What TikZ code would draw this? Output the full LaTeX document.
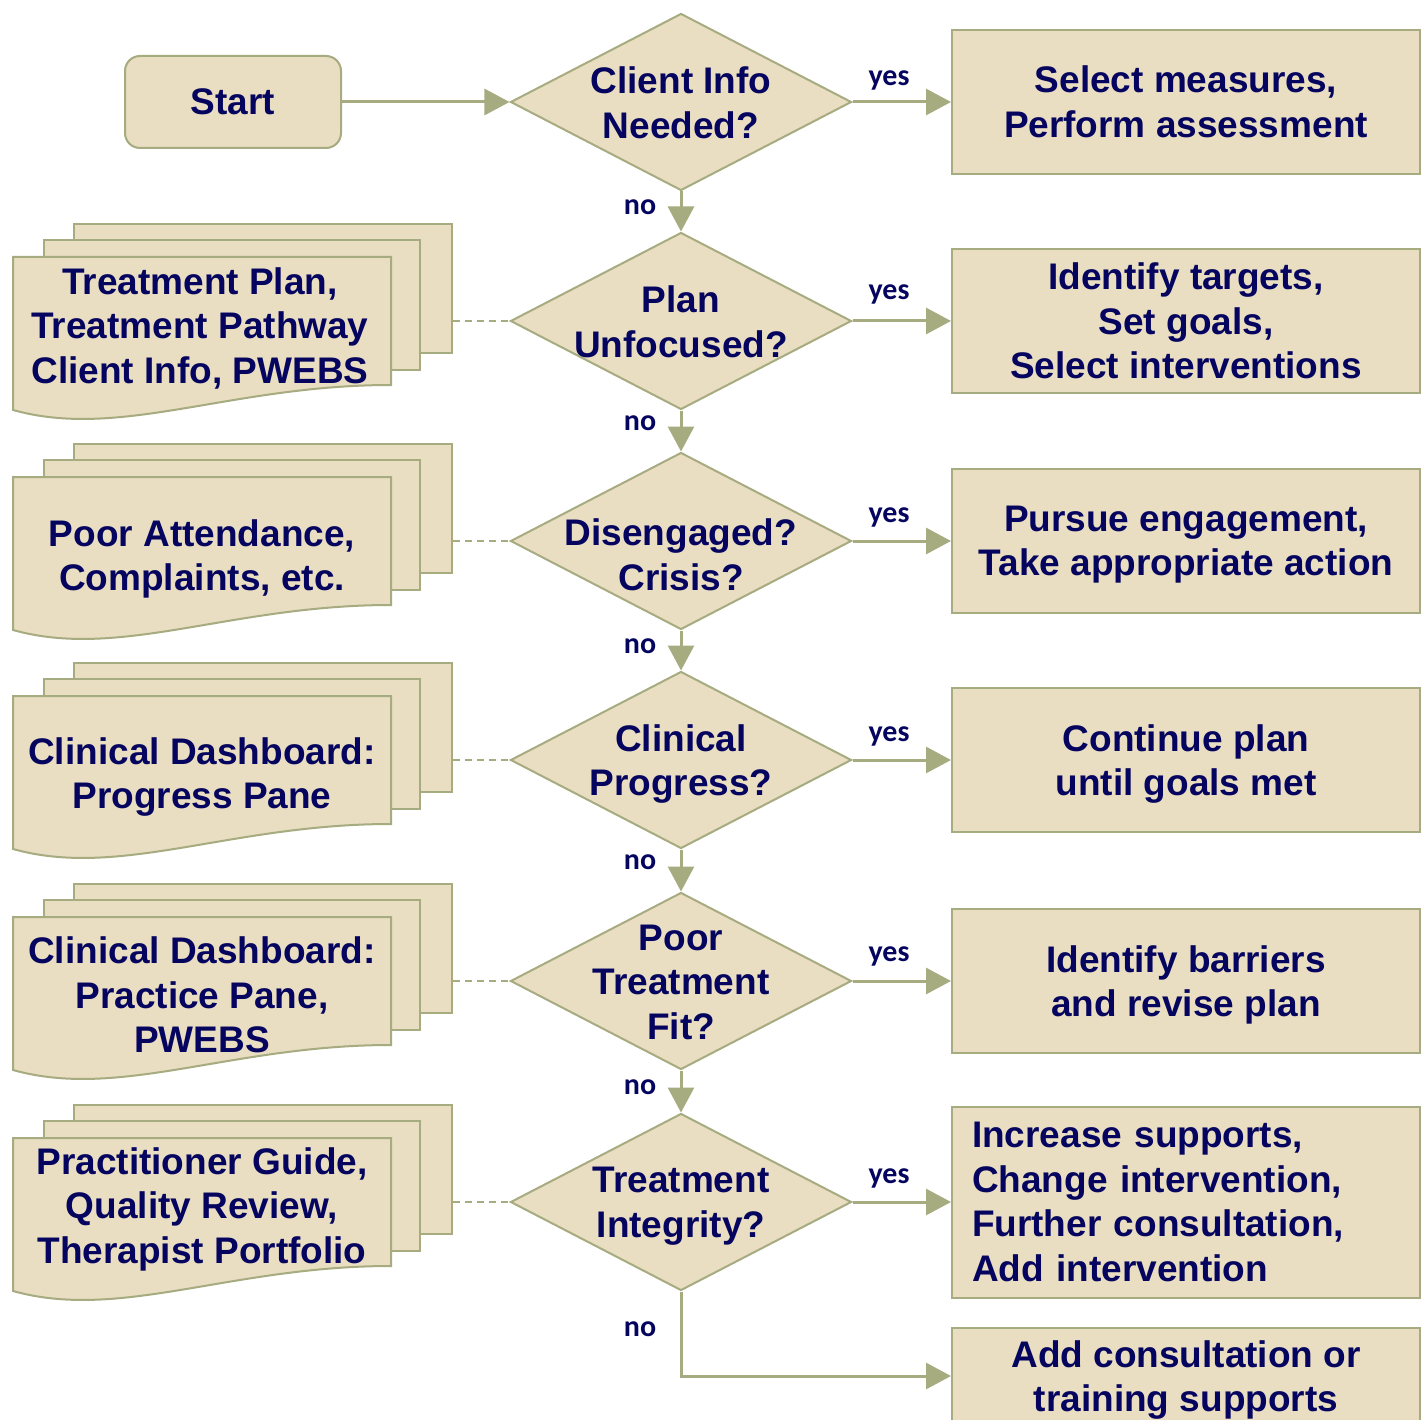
\documentclass[tikz,border=0pt]{standalone}
\usepackage{fontspec}
\setmainfont{Liberation Sans}
\newfontfamily\lblfont{Carlito}
\usetikzlibrary{arrows.meta,positioning,shapes.geometric}
\definecolor{sand}{HTML}{E9DDC2}
\definecolor{olive}{HTML}{A6AB80}
\definecolor{ink}{HTML}{05055F}
\newcommand\boxfont{\fontsize{37}{44.5}\selectfont\bfseries}

\begin{document}
\begin{tikzpicture}[
  x=1pt,y=-1pt,
  startbox/.style={rectangle,rounded corners=15pt,draw=olive,fill=sand,line width=2pt,minimum width=216pt,minimum height=92pt,font=\boxfont,text=ink},
  decbox/.style={diamond,draw=olive,fill=sand,line width=2pt,minimum width=341pt,minimum height=177pt,inner sep=0pt},
  dectext/.style={align=center,font=\boxfont,text=ink},
  actbox/.style={rectangle,draw=olive,fill=sand,line width=2pt,minimum width=468pt,minimum height=144pt,align=center,font=\boxfont,text=ink},
  sheet/.style={rectangle,draw=olive,fill=sand,line width=2pt,inner sep=0pt},
  doctext/.style={align=center,font=\boxfont,text=ink},
  yn/.style={font=\lblfont\fontsize{30}{36}\selectfont\bfseries,text=ink},
  arr/.style={-{Triangle[length=25pt,width=26pt]},line width=3pt,olive},
  lnk/.style={dash pattern=on 7pt off 5pt,line width=1.5pt,olive}]
\useasboundingbox (0,0) rectangle (1421,1420);
\node[startbox] (start) at (233,102) {Start};
% decisions
\node[decbox,label={[dectext,yshift=-1pt]center:{Client Info\\Needed?}}] (d1) at (681,102) {};
\node[decbox,label={[dectext,yshift=-1pt]center:{Plan\\Unfocused?}}] (d2) at (681,321) {};
\node[decbox,label={[dectext,yshift=-14pt]center:{Disengaged?\\Crisis?}}] (d3) at (681,541) {};
\node[decbox,label={[dectext,yshift=-4pt]center:{Clinical\\Progress?}}] (d4) at (681,760) {};
\node[decbox,label={[dectext,yshift=-1pt]center:{Poor\\Treatment\\Fit?}}] (d5) at (681,981) {};
\node[decbox,label={[dectext,yshift=-4pt]center:{Treatment\\Integrity?}}] (d6) at (681,1202) {};
% actions
\node[actbox] (a1) at (1186,102) {Select measures,\\Perform assessment};
\node[actbox] (a2) at (1186,321) {Identify targets,\\Set goals,\\Select interventions};
\node[actbox,text depth=-10pt] (a3) at (1186,541) {Pursue engagement,\\Take appropriate action};
\node[actbox,text depth=-4pt] (a4) at (1186,760) {Continue plan\\until goals met};
\node[actbox,text depth=-4pt] (a5) at (1186,981) {Identify barriers\\and revise plan};
\node[actbox,minimum height=191pt,align=left,text width=428pt,inner xsep=20pt] (a6) at (1186,1202) {Increase supports,\\Change intervention,\\Further consultation,\\Add intervention};
\node[actbox,minimum height=97pt,text depth=-8pt] (a7) at (1186,1376) {Add consultation or\\training supports};
% document stacks
\foreach \k/\c in {2/321,3/541,4/760,5/981,6/1202} {
  \node[sheet,minimum width=378pt,minimum height=129pt] (b\k) at (263,\c-32.5) {};
  \node[sheet,minimum width=376pt,minimum height=130pt] (m\k) at (232,\c-16) {};
  \draw[sheet] (13,\c-64) -- (391,\c-64) -- (391,\c+64) .. controls (230,\c+64) and (120,\c+119) .. (13,\c+89) -- cycle;
}
\node[doctext] (t2) at (200,328) {Treatment Plan,\\Treatment Pathway\\Client Info, PWEBS};
\node[doctext] (t3) at (202,559) {Poor Attendance,\\Complaints, etc.};
\node[doctext] (t4) at (202,777) {Clinical Dashboard:\\Progress Pane};
\node[doctext] (t5) at (202,995) {Clinical Dashboard:\\Practice Pane,\\PWEBS};
\node[doctext] (t6) at (202,1209) {Practitioner Guide,\\Quality Review,\\Therapist Portfolio};
% connectors
\draw[arr] (start) -- (d1);
\foreach \k in {1,...,6} \draw[arr] (d\k.east) -- (a\k.west);
\foreach \x/\y in {d1/d2,d2/d3,d3/d4,d4/d5,d5/d6} \draw[arr] (\x.south) -- (\y.north);
\draw[arr] (d6.south) |- (a7.west);
\foreach \k in {2,...,6} \draw[lnk] (b\k.east |- d\k.west) -- (d\k.west);
% labels
\foreach \k/\y in {1/80,2/294,3/517,4/736,5/956,6/1178} \node[yn] (y\k) at (889,\y) {yes};
\foreach \k/\y in {1/207,2/423,3/646,4/862,5/1087,6/1329} \node[yn] (n\k) at (640,\y) {no};
\end{tikzpicture}
\end{document}
